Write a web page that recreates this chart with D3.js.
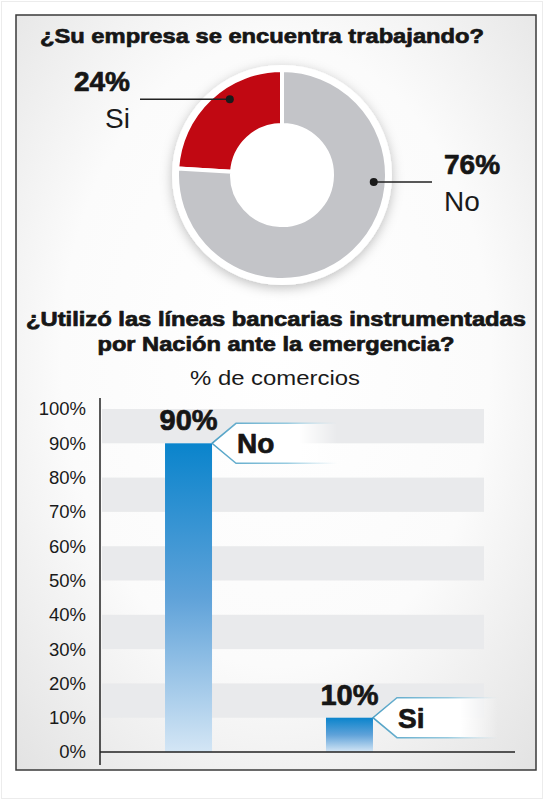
<!DOCTYPE html>
<html>
<head>
<meta charset="utf-8">
<script src="https://cdn.jsdelivr.net/npm/d3@7"></script>
<style>
  body { margin: 0; background: #fff; }
  svg { display: block; }
  .heavy { paint-order: stroke; stroke: #161616; stroke-width: 0.7px; stroke-linejoin: round; }
</style>
</head>
<body>
<div id="chart"></div>
<script>
// donut data
const pieLabels = ['Si', 'No'];
const pieValues = [24, 76];
const pieColors = ['#c10812', '#c3c4c8'];

// bar data
const barLabels = ['No', 'Si'];
const barValues = [90, 10];
const yTicks = [0, 10, 20, 30, 40, 50, 60, 70, 80, 90, 100];

const width = 550;
const height = 800;
const boldFont = '"Liberation Sans", Arial, sans-serif';
const regFont = '"Liberation Sans", Arial, sans-serif';

const svg = d3.select('#chart')
  .append('svg')
  .attr('width', width)
  .attr('height', height);

const defs = svg.append('defs');

const bg = defs.append('radialGradient').attr('id', 'bg')
  .attr('cx', '50%').attr('cy', '45%').attr('r', '75%');
bg.append('stop').attr('offset', '0%').attr('stop-color', '#ffffff');
bg.append('stop').attr('offset', '55%').attr('stop-color', '#fbfbfb');
bg.append('stop').attr('offset', '100%').attr('stop-color', '#e2e2e2');

const barGrad = defs.append('linearGradient').attr('id', 'barGrad')
  .attr('x1', 0).attr('y1', 0).attr('x2', 0).attr('y2', 1);
barGrad.append('stop').attr('offset', '0%').attr('stop-color', '#0a84cc');
barGrad.append('stop').attr('offset', '50%').attr('stop-color', '#5fa2d9');
barGrad.append('stop').attr('offset', '100%').attr('stop-color', '#d4e6f5');

const tagFill = defs.append('linearGradient').attr('id', 'tagFill')
  .attr('x1', 0).attr('y1', 0).attr('x2', 1).attr('y2', 0);
tagFill.append('stop').attr('offset', '0%').attr('stop-color', '#fff').attr('stop-opacity', 1);
tagFill.append('stop').attr('offset', '70%').attr('stop-color', '#fff').attr('stop-opacity', 1);
tagFill.append('stop').attr('offset', '100%').attr('stop-color', '#fff').attr('stop-opacity', 0);

const tagStroke = defs.append('linearGradient').attr('id', 'tagStroke')
  .attr('x1', 0).attr('y1', 0).attr('x2', 1).attr('y2', 0);
tagStroke.append('stop').attr('offset', '0%').attr('stop-color', '#4d9fc4').attr('stop-opacity', 1);
tagStroke.append('stop').attr('offset', '60%').attr('stop-color', '#7fbfd9').attr('stop-opacity', 0.8);
tagStroke.append('stop').attr('offset', '100%').attr('stop-color', '#a8d4e6').attr('stop-opacity', 0);

const shadow = defs.append('filter').attr('id', 'shadow')
  .attr('x', '-30%').attr('y', '-30%').attr('width', '160%').attr('height', '160%');
shadow.append('feDropShadow').attr('dx', 0).attr('dy', 3).attr('stdDeviation', 6)
  .attr('flood-color', '#000').attr('flood-opacity', 0.25);

const tagShadow = defs.append('filter').attr('id', 'tagShadow')
  .attr('x', '-20%').attr('y', '-50%').attr('width', '140%').attr('height', '200%');
tagShadow.append('feGaussianBlur').attr('stdDeviation', 2);

// page + frame
svg.append('rect')
  .attr('x', 1.5).attr('y', 1.5).attr('width', 541).attr('height', 797)
  .attr('fill', 'none').attr('stroke', '#ececec');
svg.append('rect')
  .attr('x', 16).attr('y', 15).attr('width', 520).attr('height', 755)
  .attr('fill', 'url(#bg)').attr('stroke', '#3a3a3a').attr('stroke-width', 1.5);

// ---------- donut ----------
svg.append('text')
  .attr('class', 'heavy')
  .attr('x', 40).attr('y', 43)
  .attr('textLength', 444).attr('lengthAdjust', 'spacingAndGlyphs')
  .attr('font-family', boldFont).attr('font-weight', 700).attr('font-size', 21)
  .attr('fill', '#161616')
  .text('¿Su empresa se encuentra trabajando?');

const cx = 282, cy = 175;
const rOuter = 105, rInner = 50;

const pie = d3.pie().sort(null)
  .startAngle(-2 * Math.PI * pieValues[0] / 100)
  .endAngle(2 * Math.PI - 2 * Math.PI * pieValues[0] / 100);
const arcs = pie(pieValues);
const arc = d3.arc().innerRadius(rInner).outerRadius(rOuter);

const donut = svg.append('g').attr('transform', `translate(${cx},${cy})`);
donut.append('circle').attr('r', rOuter + 5).attr('fill', '#fff').attr('filter', 'url(#shadow)');
donut.selectAll('path')
  .data(arcs)
  .join('path')
  .attr('d', arc)
  .attr('fill', (d, i) => pieColors[i])
  .attr('stroke', '#fff')
  .attr('stroke-width', 4)
  .attr('stroke-linejoin', 'miter');
donut.append('circle').attr('r', rInner).attr('fill', '#fff');

// label leaders: where along each slice the dot sits
const dotFrac = [0.6, 0.345];
const dotR = 92;
const labelX = [130, 444];
const lineEnd = [140, 432];
arcs.forEach((d, i) => {
  const a = d.startAngle + dotFrac[i] * (d.endAngle - d.startAngle);
  const dx = cx + dotR * Math.sin(a);
  const dy = cy - dotR * Math.cos(a);
  svg.append('line')
    .attr('x1', dx).attr('y1', dy).attr('x2', lineEnd[i]).attr('y2', dy)
    .attr('stroke', '#222').attr('stroke-width', 1.5);
  svg.append('circle').attr('cx', dx).attr('cy', dy).attr('r', 4).attr('fill', '#1a1a1a');
  const anchor = i === 0 ? 'end' : 'start';
  svg.append('text')
    .attr('class', 'heavy')
    .attr('x', labelX[i]).attr('y', dy - 8)
    .attr('text-anchor', anchor)
    .attr('font-family', boldFont).attr('font-weight', 700).attr('font-size', 28)
    .attr('fill', '#161616')
    .text(pieValues[i] + '%');
  svg.append('text')
    .attr('x', labelX[i]).attr('y', dy + 29)
    .attr('text-anchor', anchor)
    .attr('font-family', regFont).attr('font-size', 28)
    .attr('fill', '#1a1a1a')
    .text(pieLabels[i]);
});

// ---------- bars ----------
const title2 = svg.append('text')
  .attr('class', 'heavy')
  .attr('text-anchor', 'middle')
  .attr('font-family', boldFont).attr('font-weight', 700).attr('font-size', 20)
  .attr('fill', '#161616');
title2.append('tspan').attr('x', 276).attr('y', 326)
  .attr('textLength', 500).attr('lengthAdjust', 'spacingAndGlyphs')
  .text('¿Utilizó las líneas bancarias instrumentadas');
title2.append('tspan').attr('x', 276).attr('y', 351)
  .attr('textLength', 357).attr('lengthAdjust', 'spacingAndGlyphs')
  .text('por Nación ante la emergencia?');

svg.append('text')
  .attr('x', 275).attr('y', 385)
  .attr('text-anchor', 'middle')
  .attr('textLength', 170).attr('lengthAdjust', 'spacingAndGlyphs')
  .attr('font-family', regFont).attr('font-size', 20)
  .attr('fill', '#1a1a1a')
  .text('% de comercios');

const axisX = 100;
const y = d3.scaleLinear().domain([0, 100]).range([752, 409]);
const x = d3.scaleBand()
  .domain(barLabels)
  .range([axisX, 438])
  .paddingInner(0.708)
  .paddingOuter(0.404);

// alternating bands
svg.append('g')
  .selectAll('rect')
  .data(yTicks.filter(t => t < 100 && (t / 10) % 2 === 1))
  .join('rect')
  .attr('x', axisX + 2)
  .attr('y', d => y(d + 10))
  .attr('width', 484 - axisX - 2)
  .attr('height', d => y(d) - y(d + 10))
  .attr('fill', '#e9eaec');

svg.append('g')
  .selectAll('rect')
  .data(barValues)
  .join('rect')
  .attr('x', (d, i) => x(barLabels[i]))
  .attr('y', d => y(d))
  .attr('width', x.bandwidth())
  .attr('height', d => y(0) - y(d))
  .attr('fill', 'url(#barGrad)');

// y axis labels
svg.append('g')
  .attr('transform', `translate(${axisX},0)`)
  .call(d3.axisLeft(y).tickValues(yTicks).tickFormat(d => d + '%').tickSize(0).tickPadding(14))
  .call(g => g.select('.domain').remove())
  .call(g => g.selectAll('text')
    .attr('font-family', regFont).attr('font-size', 18.5).attr('fill', '#1a1a1a'));

svg.append('line')
  .attr('x1', axisX).attr('x2', axisX).attr('y1', 398).attr('y2', 765)
  .attr('stroke', '#222').attr('stroke-width', 1.5);
svg.append('line')
  .attr('x1', axisX).attr('x2', 515).attr('y1', y(0)).attr('y2', y(0))
  .attr('stroke', '#222').attr('stroke-width', 1.5);

// value labels
svg.append('g')
  .selectAll('text')
  .data(barValues)
  .join('text')
  .attr('class', 'heavy')
  .attr('x', (d, i) => x(barLabels[i]) + x.bandwidth() / 2)
  .attr('y', d => y(d) - 13)
  .attr('text-anchor', 'middle')
  .attr('font-family', boldFont).attr('font-weight', 700).attr('font-size', 29)
  .attr('fill', '#161616')
  .text(d => d + '%');

// callout tags
const tagLen = 125, tagH = 20, tagTip = 24;
barValues.forEach((v, i) => {
  const tx = x(barLabels[i]) + x.bandwidth();
  const ty = y(v);
  const g = svg.append('g').attr('transform', `translate(${tx},${ty})`);
  g.append('path')
    .attr('d', `M${tagTip + 4},${tagH + 3} L${tagLen - 10},${tagH + 3}`)
    .attr('stroke', '#3c6f8a').attr('stroke-opacity', 0.45).attr('stroke-width', 4)
    .attr('filter', 'url(#tagShadow)');
  g.append('path')
    .attr('d', `M${tagLen},${-tagH} L${tagTip},${-tagH} L0,0 L${tagTip},${tagH} L${tagLen},${tagH} Z`)
    .attr('fill', 'url(#tagFill)');
  g.append('path')
    .attr('d', `M${tagLen},${-tagH} L${tagTip},${-tagH} L0,0 L${tagTip},${tagH} L${tagLen},${tagH}`)
    .attr('fill', 'none')
    .attr('stroke', 'url(#tagStroke)').attr('stroke-width', 1.5);
  g.append('text')
    .attr('class', 'heavy')
    .attr('x', tagTip + 1).attr('y', 10)
    .attr('font-family', boldFont).attr('font-weight', 700).attr('font-size', 28)
    .attr('fill', '#161616')
    .text(barLabels[i]);
});
</script>
</body>
</html>
